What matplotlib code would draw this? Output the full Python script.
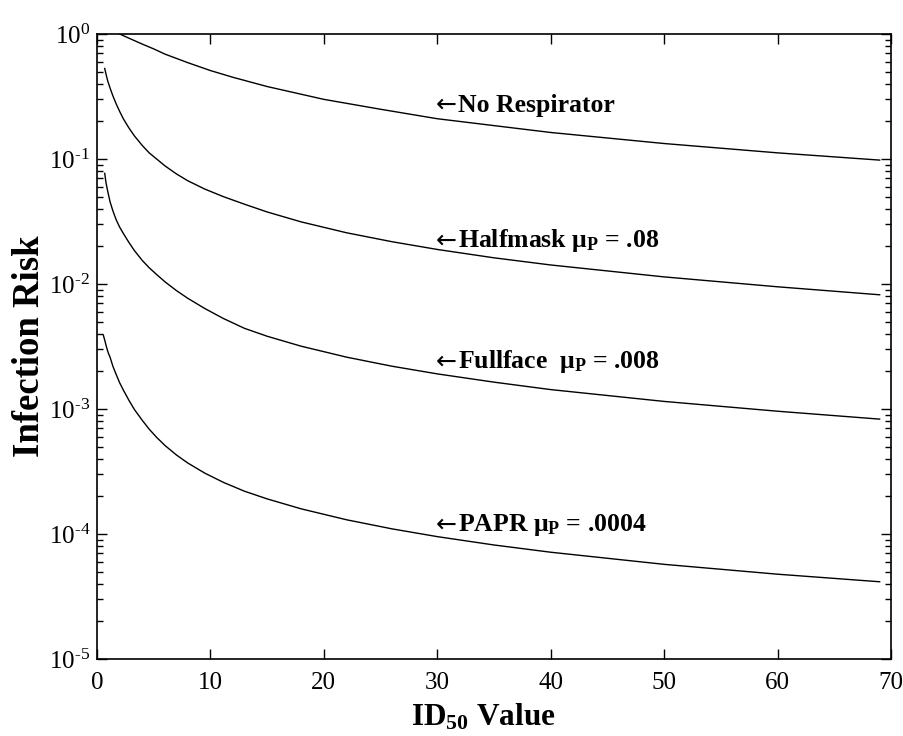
import math

import matplotlib

matplotlib.use("Agg")
import matplotlib.pyplot as plt
from matplotlib.ticker import LogLocator, FuncFormatter, NullFormatter

plt.rcParams["font.family"] = ["Liberation Serif", "DejaVu Serif"]
plt.rcParams["mathtext.fontset"] = "custom"
plt.rcParams["mathtext.rm"] = "Liberation Serif"
plt.rcParams["mathtext.it"] = "Liberation Serif:italic"
plt.rcParams["mathtext.bf"] = "Liberation Serif:bold"

# ID50 values (x) and infection risk
none_x = [2, 3, 4, 5, 6, 8, 10, 12, 15, 20, 25, 30, 35, 40, 50, 60, 69]
none_y = [1.0, 0.91, 0.83, 0.76, 0.69, 0.59, 0.51, 0.45, 0.38, 0.30, 0.25, 0.21,
          0.185, 0.163, 0.133, 0.112, 0.098]

mask_x = [0.68, 0.8, 0.95, 1.15, 1.4, 1.7, 2.0, 2.32, 2.8, 3.3, 4.0, 4.6, 5.26, 6.0,
          7.0, 8.0, 9.5, 11.14, 13, 15, 18, 22, 26, 30, 35, 40, 50, 60, 69]
half_y = [0.53, 0.475, 0.42, 0.37, 0.32, 0.275, 0.24, 0.21, 0.178, 0.153, 0.128,
          0.112, 0.100, 0.088, 0.076, 0.067, 0.0575, 0.050, 0.0435, 0.0377, 0.0314,
          0.0257, 0.0218, 0.0189, 0.0162, 0.0142, 0.0114, 0.0095, 0.0082]
full_y = [0.0768, 0.064, 0.055, 0.0455, 0.0385, 0.0325, 0.0285, 0.0254, 0.0216,
          0.0185, 0.0154, 0.0135, 0.0119, 0.0104, 0.00886, 0.00769, 0.00637, 0.0053,
          0.00442, 0.00382, 0.00318, 0.0026, 0.0022, 0.00191, 0.00164, 0.00143,
          0.00115, 0.00096, 0.00083]

papr_x = [0.56, 0.7, 0.85, 1.0, 1.15, 1.4, 1.7, 2.0, 2.32, 2.8, 3.3, 4.0, 4.6, 5.26,
          6.0, 7.0, 8.0, 9.5, 11.14, 13, 15, 18, 22, 26, 30, 35, 40, 50, 60, 69]
papr_y = [0.0039, 0.0035, 0.0031, 0.0028, 0.0026, 0.0022, 0.00188, 0.00162, 0.00142,
          0.00118, 0.00099, 0.00081, 0.00069, 0.000593, 0.00051, 0.000429,
          0.00037, 0.000307, 0.000259, 0.00022, 0.000191, 0.000159, 0.00013,
          0.00011, 0.0000953, 0.0000817, 0.0000715, 0.0000572, 0.0000477, 0.0000415]

labels = ["No Respirator",
          "Halfmask \u03bc$_\\mathbf{P}$ = .08",
          "Fullface  \u03bc$_\\mathbf{P}$ = .008",
          "PAPR \u03bc$_\\mathbf{P}$ = .0004"]
label_x = [29.9, 29.9, 29.9, 29.9]
label_y = [0.27, 0.0221, 0.00238, 0.000118]


def log_label(v, pos):
    e = int(round(math.log10(v)))
    if e < 0:
        return "10$^{\\text{-}%d}$" % -e
    return "10$^{%d}$" % e


fig = plt.figure(figsize=(9.04, 7.36), dpi=100)
ax = fig.add_axes([0.1073, 0.1046, 0.8783, 0.8492])

for xs, ys in [(none_x, none_y), (mask_x, half_y), (mask_x, full_y), (papr_x, papr_y)]:
    ax.plot(xs, ys, color="black", lw=1.0)

for txt, lx, ly in zip(labels, label_x, label_y):
    ax.annotate("\u2190", (lx, ly), fontsize=18, family="DejaVu Sans",
                va="center", ha="left")
    ax.annotate(txt, (lx, ly), xytext=(15.5, 0), textcoords="offset points",
                fontsize=18.5, fontweight="bold", va="center", ha="left")

ax.set_yscale("log")
ax.set_xlim(0, 70)
ax.set_ylim(1e-5, 1)
ax.set_xticks(range(0, 71, 10))
ax.yaxis.set_major_locator(LogLocator(base=10, numticks=10))
ax.yaxis.set_major_formatter(FuncFormatter(log_label))
ax.yaxis.set_minor_locator(LogLocator(base=10, subs=range(2, 10), numticks=10))
ax.yaxis.set_minor_formatter(NullFormatter())

ax.tick_params(which="both", direction="in", top=True, right=True, labelsize=18, width=1.0)
ax.tick_params(which="major", length=7)
ax.tick_params(which="minor", length=4)
ax.tick_params(axis="x", pad=9)
ax.tick_params(axis="y", pad=5)
for s in ax.spines.values():
    s.set_linewidth(1.2)

ax.set_xlabel("ID$_{\\mathbf{50}}$ Value", fontsize=22.5, fontweight="bold", labelpad=3)
ax.xaxis.set_label_coords(0.487, -0.068)
ax.set_ylabel("Infection Risk", fontsize=26.5, fontweight="bold", labelpad=6)
ax.yaxis.set_label_coords(-0.063, 0.5)

fig.savefig("out.png", dpi=100)
